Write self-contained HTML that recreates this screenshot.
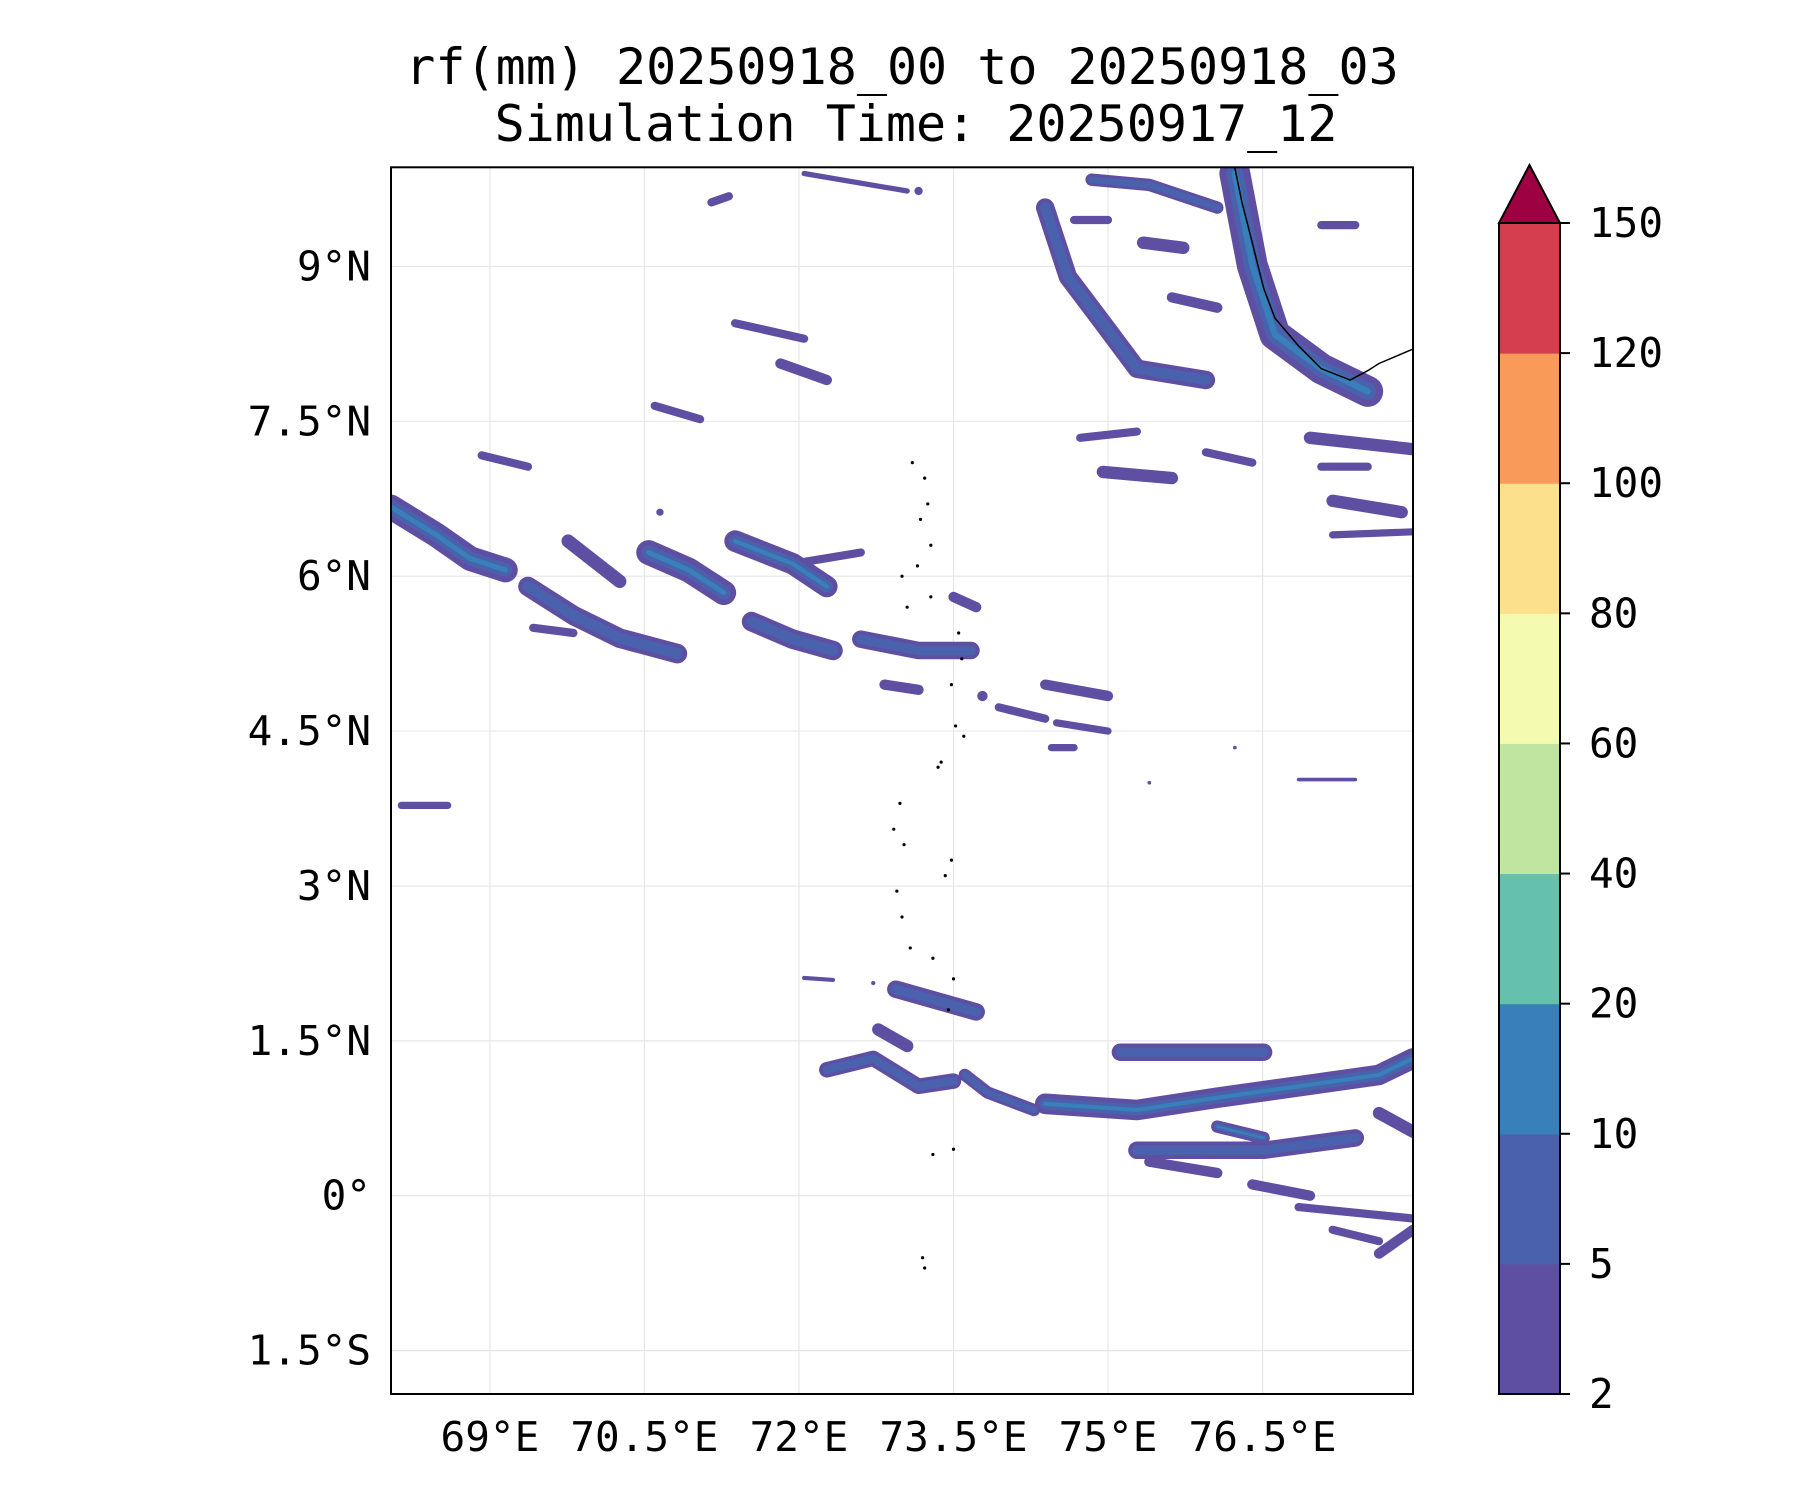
<!DOCTYPE html>
<html><head><meta charset="utf-8"><style>
html,body{margin:0;padding:0;background:#fff;}
svg{display:block;font-family:"DejaVu Sans Mono","Liberation Mono",monospace;}
</style></head><body>
<svg id="chart" width="1800" height="1500" viewBox="0 0 1800 1500" xmlns="http://www.w3.org/2000/svg">
<text x="902" y="84" font-size="50" text-anchor="middle">rf(mm) 20250918_00 to 20250918_03</text>
<text x="916" y="141" font-size="50" text-anchor="middle">Simulation Time: 20250917_12</text>
<defs><clipPath id="mapclip"><rect x="391" y="167.3" width="1022" height="1226.7"/></clipPath></defs>
<g id="grid"></g>
<g id="rain" clip-path="url(#mapclip)"></g>
<g id="coast" clip-path="url(#mapclip)"></g>
<rect x="391" y="167.3" width="1022" height="1226.7" fill="none" stroke="#000" stroke-width="2"/>
<g id="axes"></g>
<g id="cbar"></g>
</svg>
<script>
const lonTicks=[69,70.5,72,73.5,75,76.5];
const lonLabels=["69°E","70.5°E","72°E","73.5°E","75°E","76.5°E"];
const latTicks=[-1.5,0,1.5,3,4.5,6,7.5,9];
const latLabels=["1.5°S","0°","1.5°N","3°N","4.5°N","6°N","7.5°N","9°N"];
const cbLevels=[2,5,10,20,40,60,80,100,120,150];
const cbColors=["#5e4fa2","#4a62ad","#3880b9","#65c0ae","#bfe5a0","#f4faaf","#fde08b","#f99a58","#d53e4f"];
const extendColor="#9e0142";
// rain streaks: lon/lat polylines, width (deg), peak level index
const streakLon=[
[68.04,68.48,68.81,69.15],[69.37,69.81,70.26,70.82],[69.76,70.26],[70.54,70.93,71.27],
[71.38,71.94,72.27],[71.54,71.94,72.33],[72.60,73.16,73.67],[71.94,72.60],
[74.39,74.61,74.95,75.28,75.95],[76.23,76.40,76.62,77.07,77.52],[74.84,75.40,76.06],[75.34,75.73],
[76.96,77.96],[77.07,77.52],[77.18,77.85],[77.18,77.96],[74.95,75.62],[74.73,75.28],
[72.94,73.72],[75.12,76.51],[74.39,75.28,76.06,76.85,77.63,77.96],[75.28,76.51,77.40],[76.06,76.51],
[76.40,76.96],[72.27,72.72,73.16,73.50],[73.61,73.83,74.28],[75.40,76.06],[76.85,77.96],
[77.18,77.63],[77.63,77.96],[68.14,68.59],[70.60,71.04],[71.82,72.27],[71.15,71.32],
[72.05,73.05],[73.16],[74.39,75.00],[73.94,74.39],[74.50,75.00],[74.45,74.67],[72.05,72.33],
[72.72],[75.40],[76.23],[76.85,77.40],[68.92,69.37],[70.65],[72.77,73.05],[69.42,69.81],[73.78],
[74.67,75.00],[75.62,76.06],[77.07,77.40],[71.38,72.05],[72.83,73.16],[73.50,73.72],[75.95,76.40],[77.63,77.96]
];
const streakLat=[
[6.67,6.40,6.17,6.06],[5.90,5.62,5.40,5.25],[6.34,5.95],[6.23,6.06,5.84],
[6.34,6.12,5.90],[5.56,5.39,5.28],[5.39,5.28,5.28],[6.12,6.23],
[9.57,8.90,8.45,8.01,7.90],[9.90,9.01,8.34,8.01,7.79],[9.84,9.79,9.57],[9.23,9.18],
[7.34,7.23],[7.06,7.06],[6.73,6.62],[6.40,6.43],[7.01,6.95],[7.34,7.40],
[2.00,1.78],[1.39,1.39],[0.89,0.83,0.95,1.06,1.17,1.33],[0.44,0.44,0.56],[0.67,0.56],
[0.11,0.00],[1.22,1.33,1.06,1.11],[1.17,1.00,0.83],[0.33,0.22],[-0.11,-0.22],
[-0.33,-0.44],[-0.56,-0.33],[3.78,3.78],[7.65,7.52],[8.06,7.90],[9.62,9.68],
[9.90,9.73],[9.73],[4.95,4.84],[4.73,4.62],[4.58,4.50],[4.34,4.34],[2.11,2.09],
[2.06],[4.00],[4.34],[4.03,4.03],[7.17,7.06],[6.62],[1.61,1.45],[5.50,5.45],[4.84],
[9.45,9.45],[8.70,8.60],[9.40,9.40],[8.45,8.30],[4.95,4.90],[5.80,5.70],[7.20,7.10],[0.80,0.62]
];
const streakWidth=[0.24,0.19,0.13,0.24,0.21,0.19,0.17,0.08,0.18,0.30,0.12,0.12,0.12,0.08,0.12,0.07,0.12,0.08,
0.17,0.17,0.2,0.17,0.12,0.1,0.15,0.12,0.1,0.08,0.08,0.1,0.07,0.08,0.1,0.08,0.05,0.08,0.1,0.08,0.07,0.07,0.04,
0.04,0.035,0.035,0.035,0.08,0.07,0.12,0.08,0.1,0.08,0.1,0.08,0.08,0.1,0.1,0.08,0.12];
const streakLevel=[2,1,0,2,2,1,1,0,1,2,1,0,0,0,0,0,0,0,1,1,2,1,2,0,1,1,0,0,0,0,0,0,0,0,0,0,0,0,0,0,0,0,0,0,0,0,0,0,0,0,0,0,0,0,0,0,0,0];
const coastLon=[76.23,76.30,76.40,76.51,76.62,76.85,77.07,77.35,77.52,77.63,77.96];
const coastLat=[9.96,9.62,9.23,8.79,8.50,8.23,8.01,7.90,7.99,8.06,8.20];
const islandLon=[73.10,73.22,73.25,73.18,73.28,73.15,73.00,73.05,73.28,73.55,73.58,73.48,73.52,73.60,73.38,73.35,72.98,72.92,73.02,73.48,73.42,72.95,73.00,73.08,73.30,73.50,73.45,73.30,73.50,73.20,73.22];
const islandLat=[7.10,6.95,6.70,6.55,6.30,6.10,6.00,5.70,5.80,5.45,5.20,4.95,4.55,4.45,4.20,4.15,3.80,3.55,3.40,3.25,3.10,2.95,2.70,2.40,2.30,2.10,1.80,0.40,0.45,-0.60,-0.70];

const L=391,R=1413,T=167.3,B=1394,lon0=68.04,lon1=77.96,lat0=-1.92,lat1=9.96;
const xs=lon=>L+(lon-lon0)*(R-L)/(lon1-lon0);
const ys=lat=>T+(lat1-lat)*(B-T)/(lat1-lat0);
const ppd=(R-L)/(lon1-lon0);
const NS="http://www.w3.org/2000/svg";
function mk(tag,attrs,parent){const e=document.createElementNS(NS,tag);for(const k in attrs)e.setAttribute(k,attrs[k]);parent.appendChild(e);return e;}
const grid=document.getElementById('grid'),axes=document.getElementById('axes');
lonTicks.forEach((v,i)=>{
  const g=mk('line',{x1:xs(v),x2:xs(v),y1:T,y2:B,stroke:'#e6e6e6','stroke-width':1.2},grid);
  
  
  const t=mk('text',{x:xs(v),y:1451,'font-size':41,'text-anchor':'middle'},axes);t.textContent=lonLabels[i];
  
  
});
latTicks.forEach((v,i)=>{
  const g=mk('line',{x1:L,x2:R,y1:ys(v),y2:ys(v),stroke:'#e6e6e6','stroke-width':1.2},grid);
  
  
  const t=mk('text',{x:371,y:ys(v)+14,'font-size':41,'text-anchor':'end'},axes);t.textContent=latLabels[i];
  
  
});
const rain=document.getElementById('rain');
for(let lev=0;lev<3;lev++){
  streakLon.forEach((lons,i)=>{
    if(streakLevel[i]<lev)return;
    const f=[1,0.55,0.2][lev];
    let d=lons.map((lo,j)=>(j?'L':'M')+xs(lo).toFixed(1)+' '+ys(streakLat[i][j]).toFixed(1)).join(' ');
    if(lons.length===1)d+=' l0.1 0';
    const p=mk('path',{d:d,fill:'none',stroke:cbColors[lev],'stroke-width':(streakWidth[i]*ppd*f).toFixed(1),'stroke-linecap':'round','stroke-linejoin':'round'},rain);
    
    
  });
}
const coast=document.getElementById('coast');
const cp=mk('path',{d:coastLon.map((lo,j)=>(j?'L':'M')+xs(lo)+' '+ys(coastLat[j])).join(' '),fill:'none',stroke:'#000','stroke-width':1.5},coast);


islandLon.forEach((lo,i)=>{
  const c=mk('circle',{cx:xs(lo),cy:ys(islandLat[i]),r:1.6,fill:'#000'},coast);
  
  
});
const cbar=document.getElementById('cbar');
const cx0=1499,cx1=1560,cTop=223,cBot=1394,seg=(cBot-cTop)/(cbLevels.length-1);
const cy=i=>cBot-i*seg;
cbColors.forEach((c,i)=>{
  const r=mk('rect',{x:cx0,y:cy(i+1),width:cx1-cx0,height:seg+0.5,fill:c},cbar);
  
  
});
const tri=mk('polygon',{points:`${cx0},${cTop} ${cx1},${cTop} ${(cx0+cx1)/2},165`,fill:extendColor,stroke:'#000','stroke-width':2},cbar);


const fr=mk('rect',{x:cx0,y:cTop,width:cx1-cx0,height:cBot-cTop,fill:'none',stroke:'#000','stroke-width':2},cbar);


cbLevels.forEach((v,i)=>{
  mk('line',{x1:cx1,x2:cx1+10,y1:cy(i),y2:cy(i),stroke:'#000','stroke-width':2},cbar);
  const t=mk('text',{x:1589,y:cy(i)+14,'font-size':41},cbar);t.textContent=v;
  
  
});
</script>
</body></html>
